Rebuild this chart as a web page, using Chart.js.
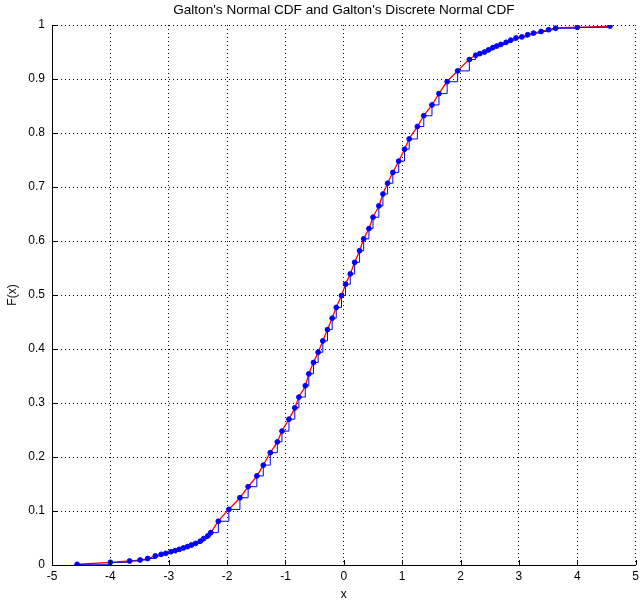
<!DOCTYPE html>
<html>
<head>
<meta charset="utf-8">
<script src="https://cdn.jsdelivr.net/npm/chart.js@4"></script>
<style>
  html, body { margin: 0; padding: 0; background: #fff; }
  #wrap { width: 643px; height: 602px; position: relative; }
</style>
</head>
<body>
<div id="wrap"><canvas id="c" width="643" height="602"></canvas></div>
<script>
// ---- data ----
const xValues = [
  -4.57, -4.00, -3.67, -3.49, -3.36, -3.23, -3.13, -3.05, -2.96, -2.89,
  -2.82, -2.75, -2.68, -2.61, -2.54, -2.46, -2.40, -2.33, -2.28, -2.15,
  -1.97, -1.78, -1.64, -1.49, -1.38, -1.26, -1.14, -1.06, -0.94, -0.84,
  -0.77, -0.66, -0.60, -0.52, -0.44, -0.36, -0.28, -0.20, -0.13, -0.04,
   0.03,  0.11,  0.185, 0.27,  0.34,  0.43,  0.50,  0.60,  0.67,  0.75,
   0.84,  0.94,  1.04,  1.12,  1.26,  1.37,  1.51,  1.63,  1.77,  1.95,
   2.15,  2.26,  2.33,  2.41,  2.48,  2.55,  2.62,  2.69,  2.78,  2.86,
   2.95,  3.05,  3.15,  3.25,  3.38,  3.51,  3.63,  4.00,  4.56
];
const cdfValues = [
  0.0013, 0.005, 0.0074, 0.0093, 0.012, 0.0167, 0.0198, 0.0216, 0.0246, 0.0265,
  0.029, 0.0315, 0.034, 0.037, 0.040, 0.044, 0.049, 0.054, 0.060, 0.081,
  0.103, 0.1246, 0.145, 0.165, 0.185, 0.208, 0.228, 0.248, 0.270, 0.291,
  0.311, 0.332, 0.354, 0.375, 0.394, 0.415, 0.436, 0.457, 0.477, 0.499,
  0.520, 0.539, 0.5605, 0.582, 0.604, 0.623, 0.644, 0.665, 0.687, 0.707,
  0.727, 0.748, 0.770, 0.789, 0.812, 0.832, 0.852, 0.873, 0.895, 0.915,
  0.936, 0.944, 0.947, 0.950, 0.954, 0.958, 0.961, 0.964, 0.968, 0.972,
  0.976, 0.978, 0.982, 0.985, 0.988, 0.9913, 0.994, 0.9957, 0.998
];
const xTicks = [-5, -4, -3, -2, -1, 0, 1, 2, 3, 4, 5];
const xTickLabels = ['-5', '-4', '-3', '-2', '-1', '0', '1', '2', '3', '4', '5'];
const yTicks = [0, 0.1, 0.2, 0.3, 0.4, 0.5, 0.6, 0.7, 0.8, 0.9, 1];
const yTickLabels = ['0', '0.1', '0.2', '0.3', '0.4', '0.5', '0.6', '0.7', '0.8', '0.9', '1'];
const titleText = "Galton's Normal CDF and Galton's Discrete Normal CDF";
const xAxisTitle = 'x';
const yAxisTitle = 'F(x)';

// ---- build chart ----
const pts = xValues.map((x, i) => ({ x: x, y: cdfValues[i] }));
const FONT = "'Liberation Sans', Arial, Helvetica, sans-serif";

const innerTicks = {
  id: 'innerTicks',
  afterDraw(chart) {
    const ctx = chart.ctx, xs = chart.scales.x, ys = chart.scales.y;
    const a = chart.chartArea;
    ctx.save();
    ctx.strokeStyle = '#000';
    ctx.lineWidth = 1;
    ctx.beginPath();
    xTicks.forEach(v => {
      const p = Math.round(xs.getPixelForValue(v)) + 0.5;
      ctx.moveTo(p, a.bottom); ctx.lineTo(p, a.bottom - 5);
    });
    yTicks.forEach(v => {
      const p = Math.round(ys.getPixelForValue(v)) + 0.5;
      ctx.moveTo(a.left, p); ctx.lineTo(a.left + 5, p);
    });
    ctx.stroke();
    ctx.restore();
  }
};

new Chart(document.getElementById('c'), {
  type: 'line',
  data: {
    datasets: [
      {
        label: 'Discrete',
        data: pts,
        stepped: true,
        borderColor: '#0000ff',
        borderWidth: 1,
        backgroundColor: '#0000ff',
        pointRadius: 2.4,
        pointBorderWidth: 1,
        pointBorderColor: '#0000ff',
        pointBackgroundColor: '#0000ff',
        fill: false,
        order: 0
      },
      {
        label: 'Normal',
        data: pts,
        borderColor: '#ff0000',
        borderWidth: 1.3,
        pointRadius: 0,
        cubicInterpolationMode: 'monotone',
        fill: false,
        order: 1
      }
    ]
  },
  options: {
    responsive: false,
    animation: false,
    layout: { padding: { left: 0, right: 6, top: 0, bottom: 0 } },
    plugins: {
      legend: { display: false },
      tooltip: { enabled: false },
      title: {
        display: true,
        text: titleText,
        fullSize: false,
        color: '#000',
        font: { family: FONT, size: 13.6, weight: 'normal' },
        padding: { top: 1.7, bottom: 7 }
      }
    },
    scales: {
      x: {
        type: 'linear',
        min: -5, max: 5,
        afterBuildTicks: s => { s.ticks = xTicks.map(v => ({ value: v })); },
        afterFit: s => { s.height = 37; },
        ticks: {
          color: '#000',
          font: { family: FONT, size: 12 },
          padding: 4,
          maxRotation: 0,
          autoSkip: false,
          callback: (v) => xTickLabels[xTicks.indexOf(v)]
        },
        grid: { color: '#000', lineWidth: 1, drawTicks: false, tickLength: 0 },
        border: { display: true, color: '#000', width: 1, dash: [1, 3] },
        title: {
          display: true, text: xAxisTitle, color: '#000',
          font: { family: FONT, size: 12 }, padding: { top: 0, bottom: 0 }
        }
      },
      y: {
        type: 'linear',
        min: 0, max: 1,
        afterBuildTicks: s => { s.ticks = yTicks.map(v => ({ value: v })); },
        afterFit: s => { s.width = 52; },
        ticks: {
          color: '#000',
          font: { family: FONT, size: 12 },
          padding: 7,
          autoSkip: false,
          callback: (v) => yTickLabels[yTicks.indexOf(v)]
        },
        grid: { color: '#000', lineWidth: 1, drawTicks: false, tickLength: 0 },
        border: { display: true, color: '#000', width: 1, dash: [1, 3] },
        title: {
          display: true, text: yAxisTitle, color: '#000',
          font: { family: FONT, size: 12 }, padding: { top: 5, bottom: 0 }
        }
      }
    }
  },
  plugins: [innerTicks]
});
</script>
</body>
</html>
